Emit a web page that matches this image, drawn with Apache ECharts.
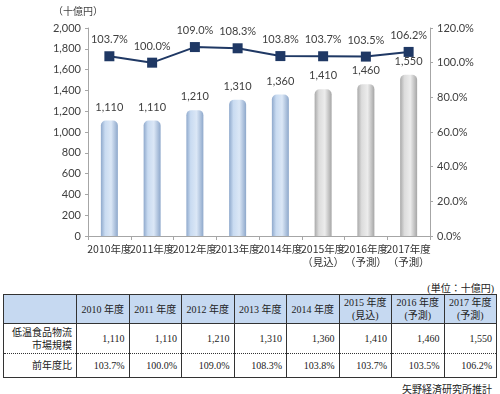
<!DOCTYPE html>
<html><head><meta charset="utf-8">
<script src="https://cdn.jsdelivr.net/npm/echarts@6/dist/echarts.min.js"></script>
<style>
html,body{margin:0;padding:0;background:#fff;}
#wrap{position:relative;width:500px;height:394px;overflow:hidden;}
#chart{position:absolute;left:0;top:0;width:500px;height:270px;}
#tbl{position:absolute;left:3px;top:294px;width:493px;border-collapse:collapse;table-layout:fixed;
 font-family:"Liberation Serif","Noto Sans CJK JP",serif;font-size:10px;color:#222;}
#tbl td{border:1px solid #333;padding:0 4px;overflow:hidden;white-space:nowrap;line-height:13px;}
#tbl tr.hd td{background:#c6d9f1;text-align:center;height:28px;padding:0 1px;}
#tbl tr.r1 td{text-align:right;height:29px;border-bottom:1px dotted #333;}
#tbl tr.r2 td{text-align:right;height:23px;border-top:1px dotted #333;}
.note{position:absolute;font-family:"Liberation Serif","Noto Sans CJK JP",serif;font-size:10px;color:#222;}
</style></head>
<body><div id="wrap"><div id="chart"></div>
<div class="note" style="right:6px;top:280px;">(単位：十億円)</div>
<table id="tbl"></table>
<div class="note" style="right:8px;top:381px;">矢野経済研究所推計</div>
</div>
<script>
const categories = ["2010年度","2011年度","2012年度","2013年度","2014年度","2015年度\n（見込）","2016年度\n（予測）","2017年度\n（予測）"];
const tableHeaders = ["2010 年度","2011 年度","2012 年度","2013 年度","2014 年度","2015 年度<br>(見込)","2016 年度<br>(予測)","2017 年度<br>(予測)"];
const marketSize = [1110,1110,1210,1310,1360,1410,1460,1550];
const yoyRatio = [103.7,100.0,109.0,108.3,103.8,103.7,103.5,106.2];
const actualCount = 5;
const unitLabel = "（十億円）";
const rowLabels = ["低温食品物流<br>市場規模","前年度比"];

const fmt = v => v.toLocaleString('en-US');
const blue = {type:'linear',x:0,y:0,x2:1,y2:0,colorStops:[{offset:0,color:'#8fa9cc'},{offset:0.25,color:'#c9dbf1'},{offset:0.6,color:'#dbe7f6'},{offset:1,color:'#8ea8cb'}]};
const grey = {type:'linear',x:0,y:0,x2:1,y2:0,colorStops:[{offset:0,color:'#a9a9a9'},{offset:0.25,color:'#dcdcdc'},{offset:0.6,color:'#ececec'},{offset:1,color:'#a6a6a6'}]};

const font = "Lato, 'Noto Sans CJK JP', sans-serif";
const chart = echarts.init(document.getElementById('chart'));
chart.setOption({
  animation:false,
  textStyle:{fontFamily:font},
  graphic:[{type:'text',left:53,top:6,style:{text:unitLabel,fontSize:10,fill:'#404040',fontFamily:"'Noto Sans CJK JP', sans-serif"}}],
  grid:{left:88,right:70,top:28,bottom:34},
  xAxis:{type:'category',data:categories,boundaryGap:true,
    axisLine:{lineStyle:{color:'#a6a6a6'}},
    axisTick:{show:true,length:4,lineStyle:{color:'#a6a6a6'}},
    axisLabel:{interval:0,fontSize:10.5,color:'#333',margin:7,lineHeight:13,fontFamily:"'Noto Sans CJK JP', sans-serif"}},
  yAxis:[
    {type:'value',min:0,max:2000,interval:200,splitLine:{show:false},
     axisLine:{show:true,lineStyle:{color:'#a6a6a6'}},axisTick:{show:true,length:3,lineStyle:{color:'#a6a6a6'}},
     axisLabel:{fontSize:11,color:'#404040',margin:7,formatter:v=>fmt(v)}},
    {type:'value',min:0,max:120,interval:20,splitLine:{show:false},
     axisLine:{show:true,lineStyle:{color:'#a6a6a6'}},axisTick:{show:true,length:3,lineStyle:{color:'#a6a6a6'}},
     axisLabel:{fontSize:11,color:'#404040',margin:7,formatter:v=>v.toFixed(1)+'%'}}
  ],
  series:[
    {type:'bar',yAxisIndex:0,barWidth:17,
     data:marketSize.map((v,i)=>({value:v,itemStyle:{color:i<actualCount?blue:grey,borderRadius:[5,5,0,0]}})),
     label:{show:true,position:'top',distance:8,fontSize:11,color:'#404040',formatter:p=>fmt(p.value)}},
    {type:'line',yAxisIndex:1,data:yoyRatio,symbol:'rect',symbolSize:10,
     lineStyle:{color:'#1f3864',width:2},itemStyle:{color:'#1f3864'},
     label:{show:true,position:'top',distance:6,fontSize:11,color:'#404040',formatter:p=>p.value.toFixed(1)+'%'}}
  ]
});

// table
const tbl = document.getElementById('tbl');
let html = '<colgroup><col style="width:73px">' + categories.map(()=>'<col style="width:52.5px">').join('') + '</colgroup>';
html += '<tr class="hd"><td></td>' + tableHeaders.map(h=>'<td>'+h+'</td>').join('') + '</tr>';
html += '<tr class="r1"><td>'+rowLabels[0]+'</td>' + marketSize.map(v=>'<td>'+fmt(v)+'</td>').join('') + '</tr>';
html += '<tr class="r2"><td>'+rowLabels[1]+'</td>' + yoyRatio.map(v=>'<td>'+v.toFixed(1)+'%</td>').join('') + '</tr>';
tbl.innerHTML = html;
</script></body></html>
